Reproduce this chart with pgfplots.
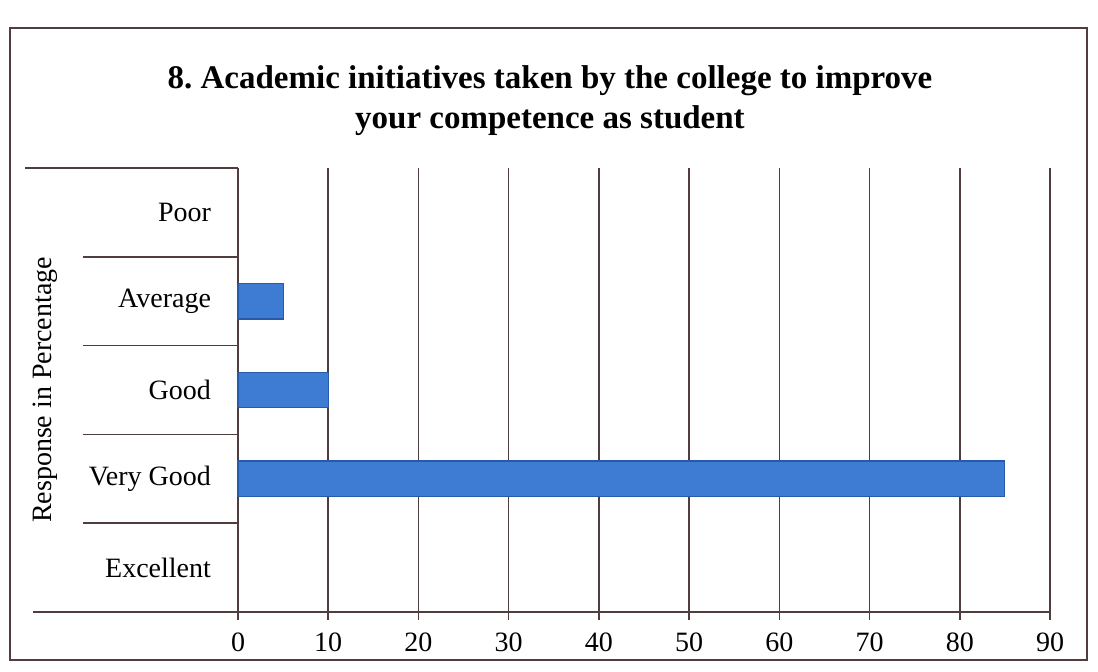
\documentclass[border=0pt]{standalone}
\usepackage{pgfplots}
\pgfplotsset{compat=1.18}
\usepackage{fontspec}
\setmainfont{Liberation Serif}
\definecolor{barblue}{RGB}{62,124,212}
\definecolor{baredge}{RGB}{40,90,170}
\definecolor{gridc}{RGB}{80,62,62}
\begin{document}
\frenchspacing
\begin{tikzpicture}
\useasboundingbox (0pt,0pt) rectangle (549pt,335.5pt);
\draw[gridc, line width=0.8pt] (5pt,5.5pt) rectangle (543.5pt,321.5pt);
\node[font=\fontsize{16.5}{20}\selectfont\bfseries, align=center] at (275pt,285pt) {8. Academic initiatives taken by the college to improve\\your competence as student};
\node[rotate=90, font=\fontsize{14}{16}\selectfont] at (22.5pt,140.5pt) {Response in Percentage};
\begin{axis}[
  at={(119pt,29.5pt)}, anchor=south west,
  width=406pt, height=222pt, scale only axis,
  xmin=0, xmax=90, ymin=-0.5, ymax=4.5,
  xtick={0,10,...,90},
  ytick={0,1,2,3,4},
  yticklabels={Excellent,Very Good,Good,Average,Poor},
  /pgf/number format/assume math mode=true,
  axis x line*=bottom, axis y line*=left,
  axis line style={-, gridc, line width=0.8pt},
  xmajorgrids, major grid style={gridc, line width=0.8pt},
  ytick style={draw=none},
  xtick style={gridc, line width=0.8pt},
  tick align=outside, major tick length=4pt,
  xticklabel style={font=\fontsize{14}{16}\selectfont, yshift=-3pt},
  yticklabel style={font=\fontsize{14}{16}\selectfont, anchor=east, xshift=-6pt},
  extra y ticks={0.5,1.5,2.5,3.5},
  extra y tick labels={},
  extra y tick style={ytick style={draw=gridc, line width=0.8pt}, major tick length=77.5pt, tick align=outside},
  xbar, bar width=0.4,
  clip=false,
]
\addplot[fill=barblue, draw=baredge, line width=0.6pt] coordinates {(85,1) (10,2) (5,3)};
\draw[gridc, line width=0.8pt] (axis cs:0,4.5) -- ++(-106.5pt,0pt);
\draw[gridc, line width=0.8pt] (axis cs:0,-0.5) -- ++(-102.5pt,0pt);
\end{axis}
\end{tikzpicture}
\end{document}
